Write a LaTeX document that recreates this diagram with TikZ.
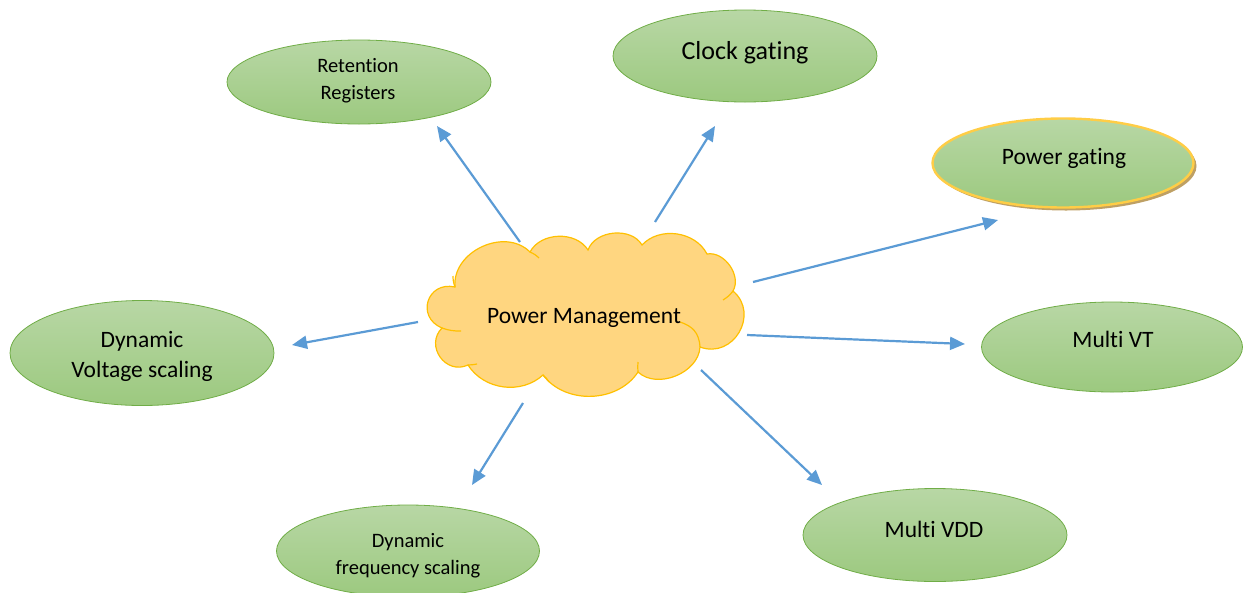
\documentclass[tikz,border=0pt]{standalone}
\usepackage{fontspec}
\setmainfont[RawFeature={-liga;-clig;-dlig;-calt}]{Carlito}
\usetikzlibrary{shapes.geometric,arrows.meta}

\definecolor{leafline}{RGB}{112,173,71}
\definecolor{leaftop}{RGB}{184,215,165}
\definecolor{leafbot}{RGB}{156,201,127}
\definecolor{cloudfill}{RGB}{255,214,128}
\definecolor{cloudline}{RGB}{255,192,0}
\definecolor{arrowblue}{RGB}{91,155,213}
\definecolor{goldline}{RGB}{255,205,70}
\definecolor{shadowtan}{RGB}{190,160,100}

% keeps "t" and "i" as separate glyphs
\newcommand{\nolig}{\kern0pt}

\tikzset{
  leaf/.style={ellipse, draw=leafline, line width=0.8pt,
    top color=leaftop, bottom color=leafbot, inner sep=0pt},
  lbl/.style={font=\fontsize{23.5}{30}\selectfont, align=center, inner sep=0pt},
  lblsmall/.style={font=\fontsize{20.5}{27}\selectfont, align=center, inner sep=0pt},
  lblbig/.style={font=\fontsize{26}{30}\selectfont, align=center, inner sep=0pt},
  link/.style={draw=arrowblue, line width=2.2pt,
    -{Triangle[length=15pt,width=13pt]}},
  puffline/.style={draw=cloudline, line width=1.2pt},
}

\begin{document}
\begin{tikzpicture}[x=1pt,y=1pt]
\useasboundingbox (0,0) rectangle (1244,-592);

% outer ellipses
\node[leaf, minimum width=264pt, minimum height=84pt] (rr) at (359,-82) {};
\node[leaf, minimum width=264pt, minimum height=92pt] (cg) at (745,-56) {};
\node[ellipse, fill=shadowtan, inner sep=0pt, minimum width=261pt, minimum height=89pt] (pgshadow) at (1066,-166) {};
\node[leaf, draw=goldline, line width=2.4pt, minimum width=261pt, minimum height=89pt] (pg) at (1063,-163) {};
\node[leaf, minimum width=261pt, minimum height=90pt] (mvt) at (1112,-347) {};
\node[leaf, minimum width=264pt, minimum height=93pt] (mvdd) at (935,-535) {};
\node[leaf, minimum width=263pt, minimum height=92pt] (dfs) at (408,-551) {};
\node[leaf, minimum width=264pt, minimum height=105pt] (dvs) at (142,-353) {};

% labels
\node[lblsmall] (rr-t) at (358,-81) {Retent\nolig ion\\Registers};
\node[lblbig] (cg-t) at (745,-53) {Clock gat\nolig ing};
\node[lbl] (pg-t) at (1064,-158) {Power gat\nolig ing};
\node[lbl] (mvt-t) at (1113,-339) {Mult\nolig i VT};
\node[lbl] (mvdd-t) at (934,-529) {Mult\nolig i VDD};
\node[lblsmall] (dfs-t) at (408,-556) {Dynamic\\frequency scaling};
\node[lbl] (dvs-t) at (142,-356) {Dynamic\\Voltage scaling};

% cloud outline
\coordinate (j1) at (455,-287);
\coordinate (j2) at (530,-252);
\coordinate (j3) at (588,-250);
\coordinate (j4) at (642,-245);
\coordinate (j5) at (707,-254);
\coordinate (j6) at (733,-291);
\coordinate (j7) at (700,-347);
\coordinate (j8) at (638,-372);
\coordinate (j9) at (543,-375);
\coordinate (j10) at (468,-365);
\coordinate (j11) at (442,-328);
\path[fill=cloudfill, puffline]
  (j1) to[bend left=70, looseness=1.1] (j2)
       to[bend left=60] (j3)
       to[bend left=65] (j4)
       to[bend left=55] (j5)
       to[bend left=65] (j6)
       to[bend left=80, looseness=1.4] (j7)
       to[bend left=65] (j8)
       to[bend left=55] (j9)
       to[bend left=50] (j10)
       to[bend left=80, looseness=1.4] (j11)
       to[bend left=85, looseness=1.7] cycle;
% inner puff strokes
\draw[puffline] (j1) to[bend left=10] (453,-276);
\draw[puffline] (j2) to[bend left=10] (539,-258);
\draw[puffline] (j11) to[bend right=10] (461,-331);
\draw[puffline] (j10) to[bend right=5] (477,-364);
\draw[puffline] (j9) to[bend left=10] (549,-382);
\draw[puffline] (j8) to[bend left=5] (638,-362);
\draw[puffline] (j7) .. controls (699,-332) and (692,-326) .. (680,-322);
\draw[puffline] (j6) to[bend left=10] (723,-300);
\node[lbl] (pm) at (584,-318) {Power Management};

% connectors
\coordinate (s-rr) at (520,-242);   \coordinate (e-rr) at (437,-126);
\coordinate (s-cg) at (655,-222);   \coordinate (e-cg) at (715,-126);
\coordinate (s-pg) at (753,-282);   \coordinate (e-pg) at (998,-220);
\coordinate (s-mvt) at (747,-335);  \coordinate (e-mvt) at (965,-344);
\coordinate (s-mvdd) at (701,-370); \coordinate (e-mvdd) at (822,-485);
\coordinate (s-dfs) at (523,-403);  \coordinate (e-dfs) at (472,-485);
\coordinate (s-dvs) at (418,-322);  \coordinate (e-dvs) at (292,-345);
\draw[link] (s-rr) -- (e-rr);
\draw[link] (s-cg) -- (e-cg);
\draw[link] (s-pg) -- (e-pg);
\draw[link] (s-mvt) -- (e-mvt);
\draw[link] (s-mvdd) -- (e-mvdd);
\draw[link] (s-dfs) -- (e-dfs);
\draw[link] (s-dvs) -- (e-dvs);
\end{tikzpicture}
\end{document}
